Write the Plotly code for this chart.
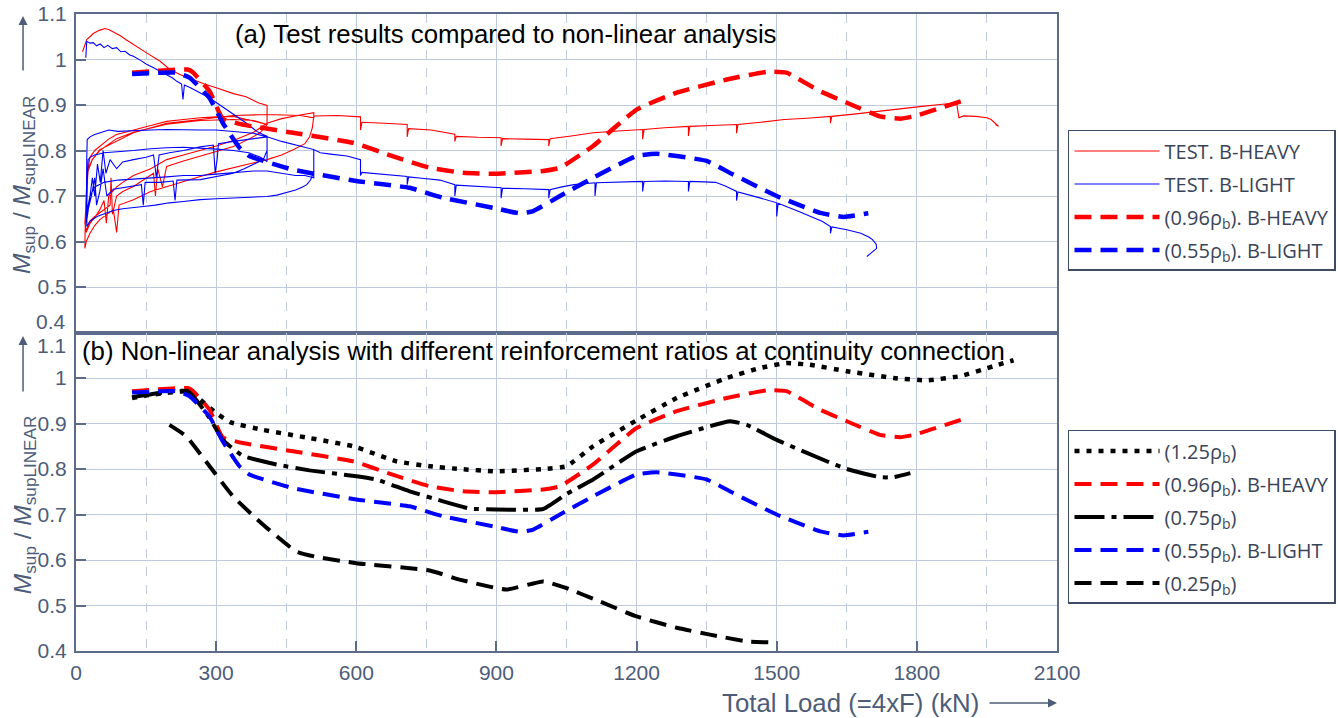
import plotly.graph_objects as go
from plotly.subplots import make_subplots

# ---------------- data ----------------
# Non-linear analysis curves: total load (kN) vs Msup/MsupLINEAR
load_125 = [120, 160, 240, 257, 300, 330, 400, 500, 593, 686, 757, 821, 900, 1000, 1050, 1107,
            1200, 1286, 1393, 1464, 1521, 1571, 1650, 1750, 1821, 1893, 1964, 2007]
ratio_125 = [0.956, 0.963, 0.971, 0.960, 0.923, 0.903, 0.886, 0.868, 0.850, 0.817, 0.806, 0.800,
             0.795, 0.800, 0.806, 0.850, 0.907, 0.956, 1.000, 1.022, 1.033, 1.029, 1.015, 1.000,
             0.995, 1.004, 1.026, 1.039]

load_096 = [120, 239, 250, 286, 314, 357, 464, 593, 671, 757, 829, 900, 1000, 1036, 1107, 1200,
            1286, 1393, 1479, 1521, 1593, 1650, 1721, 1764, 1793, 1900]
ratio_096 = [0.971, 0.978, 0.972, 0.930, 0.870, 0.857, 0.839, 0.817, 0.790, 0.762, 0.751, 0.749,
             0.755, 0.762, 0.810, 0.890, 0.927, 0.956, 0.973, 0.971, 0.930, 0.905, 0.875, 0.870,
             0.875, 0.910]

load_075 = [120, 239, 286, 314, 357, 429, 500, 600, 643, 714, 786, 843, 900, 1000, 1050, 1107,
            1200, 1286, 1400, 1436, 1500, 1607, 1650, 1721, 1750, 1786]
ratio_075 = [0.958, 0.971, 0.912, 0.864, 0.829, 0.810, 0.797, 0.784, 0.777, 0.751, 0.729, 0.713,
             0.711, 0.712, 0.745, 0.777, 0.839, 0.872, 0.905, 0.897, 0.864, 0.817, 0.800, 0.782,
             0.782, 0.791]

load_055 = [120, 214, 243, 286, 314, 350, 371, 464, 600, 714, 786, 893, 950, 979, 1036, 1107,
            1200, 1243, 1350, 1407, 1500, 1593, 1643, 1696]
ratio_055 = [0.968, 0.971, 0.960, 0.915, 0.861, 0.806, 0.788, 0.758, 0.733, 0.718, 0.696, 0.674,
             0.662, 0.667, 0.700, 0.740, 0.788, 0.793, 0.777, 0.747, 0.700, 0.663, 0.654, 0.662]

load_025 = [200, 236, 286, 336, 400, 471, 514, 600, 757, 821, 921, 1000, 1050, 1121, 1200, 1286,
            1357, 1436, 1486]
ratio_025 = [0.897, 0.872, 0.806, 0.740, 0.678, 0.619, 0.607, 0.593, 0.577, 0.557, 0.535, 0.553,
             0.538, 0.509, 0.476, 0.451, 0.436, 0.421, 0.419]

# Test results (cyclic loading path), B-HEAVY
test_heavy_load = [
    14, 18, 23, 30, 37, 50, 62, 70, 80, 95, 108, 130, 152, 180, 201, 225, 250, 275, 300, 337, 364, 390, 409, 409,
    390, 337, 300, 266, 230, 194, 160, 123, 100, 87, 70, 51, 40, 30, 24, 21, 20,
    24, 30, 40, 51, 73, 75, 78, 87, 100, 123, 150, 166, 170, 175, 185, 194, 230, 266, 300, 337, 370, 394, 409,
    380, 337, 266, 194, 123, 87, 51, 35, 26, 22, 19,
    22, 30, 45, 51, 60, 65, 70, 87, 100, 123, 160, 194, 230, 266, 300, 337, 380, 409,
    440, 480, 509, 509,
    480, 409, 337, 266, 194, 123, 87, 51, 35, 24, 20, 19,
    22, 30, 40, 51, 80, 87, 92, 123, 160, 194, 230, 266, 300, 337, 370, 409, 440, 466, 490, 500, 506, 509,
    560, 609, 609, 612, 660, 709, 709, 712, 760, 779, 811, 811, 814, 860, 910, 910, 913, 960, 1012, 1012,
    1015, 1060, 1107, 1160, 1213, 1213, 1216, 1260, 1311, 1311, 1314, 1360, 1414, 1414, 1417, 1466, 1516,
    1565, 1615, 1615, 1618, 1665, 1713, 1760, 1811, 1850, 1885, 1890, 1900, 1926, 1950, 1959, 1968, 1975, 1968]
test_heavy_ratio = [
    1.017, 1.030, 1.044, 1.050, 1.057, 1.064, 1.068, 1.066, 1.061, 1.052, 1.043, 1.028, 1.014, 0.996, 0.978,
    0.966, 0.956, 0.946, 0.938, 0.925, 0.918, 0.905, 0.899, 0.857,
    0.862, 0.875, 0.874, 0.872, 0.868, 0.864, 0.855, 0.845, 0.838, 0.835, 0.825, 0.810, 0.800, 0.785, 0.750,
    0.680, 0.620,
    0.630, 0.645, 0.655, 0.663, 0.680, 0.740, 0.660, 0.700, 0.710, 0.721, 0.740, 0.750, 0.700, 0.760, 0.720,
    0.765, 0.777, 0.787, 0.798, 0.809, 0.825, 0.839, 0.857,
    0.866, 0.868, 0.866, 0.858, 0.840, 0.826, 0.800, 0.780, 0.760, 0.700, 0.640,
    0.620, 0.640, 0.660, 0.670, 0.690, 0.640, 0.700, 0.720, 0.730, 0.745, 0.760, 0.780, 0.790, 0.800, 0.810,
    0.822, 0.840, 0.860,
    0.870, 0.878, 0.883, 0.872,
    0.877, 0.879, 0.877, 0.868, 0.860, 0.839, 0.820, 0.802, 0.780, 0.750, 0.650, 0.585,
    0.600, 0.618, 0.635, 0.648, 0.670, 0.620, 0.680, 0.692, 0.710, 0.721, 0.733, 0.743, 0.753, 0.762, 0.770,
    0.780, 0.790, 0.802, 0.815, 0.830, 0.850, 0.876,
    0.877, 0.874, 0.845, 0.862, 0.860, 0.857, 0.830, 0.848, 0.845, 0.842, 0.836, 0.820, 0.831, 0.829, 0.828,
    0.810, 0.826, 0.825, 0.824, 0.810,
    0.826, 0.832, 0.839, 0.843, 0.846, 0.825, 0.846, 0.850, 0.853, 0.832, 0.853, 0.855, 0.857, 0.838, 0.857,
    0.862, 0.868,
    0.871, 0.875, 0.860, 0.875, 0.880, 0.886, 0.891, 0.897, 0.901, 0.905, 0.872, 0.876, 0.875, 0.872, 0.868,
    0.860, 0.853, 0.857]

# Test results (cyclic loading path), B-LIGHT
test_light_load = [
    21, 23, 30, 37, 44, 52, 60, 68, 78, 87, 96, 105, 115, 123, 140, 150, 162, 173, 185, 195, 206, 216, 226,
    229, 232, 245, 266, 283, 301, 320, 337, 352, 365, 387, 400, 409, 409,
    395, 370, 337, 300, 266, 230, 194, 160, 123, 90, 60, 40, 30, 26, 24, 23,
    26, 33, 40, 44, 51, 58, 66, 80, 100, 123, 140, 144, 148, 180, 208, 212, 216, 266, 300, 337, 360, 380,
    401, 409, 409,
    380, 337, 300, 266, 230, 194, 160, 120, 90, 70, 51, 40, 30, 24, 23, 22, 22,
    25, 30, 35, 40, 46, 52, 58, 64, 73, 87, 100, 123, 150, 166, 172, 178, 200, 230, 266, 294, 298, 302, 305,
    337, 370, 409,
    440, 470, 495, 509, 509,
    490, 470, 440, 409, 380, 337, 300, 266, 230, 194, 160, 123, 90, 60, 40, 30, 24, 23,
    30, 45, 60, 80, 100, 120, 144, 170, 200, 230, 266, 300, 337, 370, 409, 430, 451, 470, 485, 494, 502, 506,
    509, 509,
    523, 545, 580, 609, 609, 612, 650, 680, 709, 709, 712, 740, 779, 811, 811, 814, 860, 910, 910, 913, 960,
    1012, 1012, 1015, 1040, 1066, 1111, 1111, 1114, 1160, 1213, 1213, 1216, 1260, 1311, 1311, 1314, 1345,
    1369, 1390, 1414, 1414, 1417, 1460, 1500, 1500, 1503, 1550, 1598, 1615, 1615, 1618, 1650, 1680, 1697,
    1705, 1713, 1714, 1705, 1693]
test_light_ratio = [
    1.004, 1.040, 1.036, 1.037, 1.030, 1.034, 1.026, 1.031, 1.024, 1.026, 1.017, 1.018, 1.010, 1.007, 0.997,
    0.990, 0.984, 0.978, 0.972, 0.965, 0.960, 0.952, 0.946, 0.912, 0.944, 0.938, 0.927, 0.917, 0.905, 0.892,
    0.879, 0.869, 0.860, 0.842, 0.836, 0.831, 0.776,
    0.785, 0.795, 0.800, 0.803, 0.805, 0.807, 0.806, 0.804, 0.800, 0.797, 0.795, 0.790, 0.785, 0.780, 0.730,
    0.660,
    0.670, 0.700, 0.740, 0.680, 0.710, 0.760, 0.700, 0.715, 0.718, 0.721, 0.725, 0.680, 0.730, 0.730, 0.733,
    0.690, 0.735, 0.736, 0.742, 0.750, 0.760, 0.770, 0.780, 0.800, 0.830,
    0.838, 0.842, 0.845, 0.845, 0.846, 0.846, 0.845, 0.843, 0.842, 0.845, 0.839, 0.835, 0.830, 0.824, 0.780,
    0.700, 0.640,
    0.660, 0.700, 0.740, 0.700, 0.770, 0.730, 0.800, 0.750, 0.780, 0.760, 0.775, 0.780, 0.785, 0.790, 0.740,
    0.790, 0.795, 0.800, 0.808, 0.812, 0.750, 0.780, 0.815, 0.820, 0.825, 0.830,
    0.820, 0.812, 0.806, 0.802, 0.740,
    0.745, 0.745, 0.750, 0.755, 0.755, 0.752, 0.748, 0.745, 0.745, 0.742, 0.740, 0.738, 0.735, 0.730, 0.720,
    0.700, 0.670, 0.633,
    0.645, 0.655, 0.660, 0.668, 0.672, 0.675, 0.677, 0.680, 0.685, 0.688, 0.692, 0.694, 0.696, 0.697, 0.699,
    0.702, 0.707, 0.713, 0.720, 0.725, 0.735, 0.745, 0.752, 0.802,
    0.795, 0.792, 0.788, 0.780, 0.745, 0.752, 0.748, 0.746, 0.743, 0.725, 0.742, 0.739, 0.735, 0.725, 0.700,
    0.724, 0.721, 0.718, 0.695, 0.717, 0.716,
    0.714, 0.695, 0.714, 0.720, 0.725, 0.729, 0.700, 0.729, 0.731, 0.732, 0.710, 0.732, 0.733, 0.732, 0.710,
    0.732, 0.731,
    0.730, 0.722, 0.710, 0.690, 0.709, 0.697, 0.685, 0.655, 0.684, 0.665, 0.644, 0.633, 0.618, 0.632, 0.626,
    0.618, 0.610,
    0.604, 0.594, 0.585, 0.578, 0.567]

x_tick_vals = [0, 300, 600, 900, 1200, 1500, 1800, 2100]
x_tick_text = ["0", "300", "600", "900", "1200", "1500", "1800", "2100"]
y_top_tick_vals = [0.5, 0.6, 0.7, 0.8, 0.9, 1.0, 1.1]
y_top_tick_text = ["0.5", "0.6", "0.7", "0.8", "0.9", "1", "1.1"]
y_bot_tick_vals = [0.4, 0.5, 0.6, 0.7, 0.8, 0.9, 1.0]
y_bot_tick_text = ["0.4", "0.5", "0.6", "0.7", "0.8", "0.9", "1"]

# ---------------- styling ----------------
RED = "#ff0000"
BLUE = "#0000ff"
BLACK = "#000000"
SLATE = "#4d5c78"
FRAME = "#5b6b89"
GRID = "#bfcadd"
LEG_TXT = "#3a4458"
FONT = "Liberation Sans, Arial, sans-serif"
DASH = "17px,9px"
TICK_SIZE = 21
TITLE_SIZE = 25.8

fig = make_subplots(rows=2, cols=1, shared_xaxes=True, vertical_spacing=0)

# top panel
fig.add_trace(go.Scatter(x=test_heavy_load, y=test_heavy_ratio, mode="lines",
                         line=dict(color=RED, width=1.1), name="TEST. B-HEAVY",
                         legend="legend", legendgroup="a1"), row=1, col=1)
fig.add_trace(go.Scatter(x=test_light_load, y=test_light_ratio, mode="lines",
                         line=dict(color=BLUE, width=1.1), name="TEST. B-LIGHT",
                         legend="legend", legendgroup="a2"), row=1, col=1)
fig.add_trace(go.Scatter(x=load_096, y=ratio_096, mode="lines",
                         line=dict(color=RED, width=4.5, dash=DASH, shape="spline", smoothing=0.4),
                         name="(0.96ρ<sub>b</sub>). B-HEAVY", legend="legend", legendgroup="a3"),
              row=1, col=1)
fig.add_trace(go.Scatter(x=load_055, y=ratio_055, mode="lines",
                         line=dict(color=BLUE, width=4.5, dash=DASH, shape="spline", smoothing=0.4),
                         name="(0.55ρ<sub>b</sub>). B-LIGHT", legend="legend", legendgroup="a4"),
              row=1, col=1)

# bottom panel
fig.add_trace(go.Scatter(x=load_125, y=ratio_125, mode="lines",
                         line=dict(color=BLACK, width=4.5, dash="5px,7px", shape="spline", smoothing=0.4),
                         name="(1.25ρ<sub>b</sub>)", legend="legend2", legendgroup="b1"), row=2, col=1)
fig.add_trace(go.Scatter(x=load_096, y=ratio_096, mode="lines",
                         line=dict(color=RED, width=4, dash=DASH, shape="spline", smoothing=0.4),
                         name="(0.96ρ<sub>b</sub>). B-HEAVY", legend="legend2", legendgroup="b2"),
              row=2, col=1)
fig.add_trace(go.Scatter(x=load_075, y=ratio_075, mode="lines",
                         line=dict(color=BLACK, width=4, dash="30px,7px,5px,7px", shape="spline",
                                   smoothing=0.4),
                         name="(0.75ρ<sub>b</sub>)", legend="legend2", legendgroup="b3"), row=2, col=1)
fig.add_trace(go.Scatter(x=load_055, y=ratio_055, mode="lines",
                         line=dict(color=BLUE, width=4, dash=DASH, shape="spline", smoothing=0.4),
                         name="(0.55ρ<sub>b</sub>). B-LIGHT", legend="legend2", legendgroup="b4"),
              row=2, col=1)
fig.add_trace(go.Scatter(x=load_025, y=ratio_025, mode="lines",
                         line=dict(color=BLACK, width=4, dash=DASH, shape="spline", smoothing=0.4),
                         name="(0.25ρ<sub>b</sub>)", legend="legend2", legendgroup="b5"), row=2, col=1)

axis_common = dict(showline=True, linecolor=FRAME, linewidth=2, mirror=True,
                   showgrid=True, gridcolor=GRID, gridwidth=1, zeroline=False,
                   ticks="inside", ticklen=10, tickwidth=1.5, tickcolor=FRAME,
                   tickfont=dict(family=FONT, size=TICK_SIZE, color=SLATE))

minor_x = dict(dtick=150, tick0=0, showgrid=True, gridcolor=GRID, griddash="dash", gridwidth=1, ticks="")

fig.update_xaxes(range=[0, 2100], tickmode="array", tickvals=x_tick_vals, ticktext=x_tick_text,
                 minor=minor_x, ticklabelstandoff=2, **axis_common)
fig.update_xaxes(showticklabels=False, ticks="", row=1, col=1)
fig.update_yaxes(range=[0.4, 1.1], tickmode="array", ticklabelstandoff=3, **axis_common)
fig.update_yaxes(tickvals=y_top_tick_vals, ticktext=y_top_tick_text, row=1, col=1)
fig.update_yaxes(tickvals=y_bot_tick_vals, ticktext=y_bot_tick_text, row=2, col=1)

legend_common = dict(xanchor="right", yanchor="top", bgcolor="white", bordercolor="#3e4c66",
                     borderwidth=1.5, font=dict(family="Open Sans, sans-serif", size=20, color=LEG_TXT),
                     itemwidth=85, tracegroupgap=4, traceorder="grouped")

fig.update_layout(
    width=1338, height=718, autosize=False,
    margin=dict(l=76, r=281, t=14, b=67, autoexpand=False),
    paper_bgcolor="white", plot_bgcolor="white",
    legend=dict(x=1.2844, y=0.818, **legend_common),
    legend2=dict(x=1.2844, y=0.347, **legend_common),
    showlegend=True,
)

ytitle = "<i>M</i><sub>sup</sub> / <i>M</i><sub>supLINEAR</sub>"
annotations = [
    dict(text="(a) Test results compared to non-linear analysis", xref="paper", yref="paper",
         x=0.16, y=0.969, xanchor="left", yanchor="middle", showarrow=False,
         font=dict(family=FONT, size=TITLE_SIZE, color="black")),
    dict(text="(b) Non-linear analysis with different reinforcement ratios at continuity connection",
         xref="paper", yref="paper", x=0.0045, y=0.4706, xanchor="left", yanchor="middle", showarrow=False,
         font=dict(family=FONT, size=TITLE_SIZE, color="black")),
    # y axis titles
    dict(text=ytitle, xref="paper", yref="paper", x=-0.053, y=0.7316, textangle=-90,
         xanchor="center", yanchor="middle", showarrow=False,
         font=dict(family=FONT, size=24.5, color=SLATE)),
    dict(text=ytitle, xref="paper", yref="paper", x=-0.053, y=0.229, textangle=-90,
         xanchor="center", yanchor="middle", showarrow=False,
         font=dict(family=FONT, size=24.5, color=SLATE)),
    # displaced edge tick labels
    dict(text="0.4", xref="paper", yref="y", x=0, y=0.4, xanchor="right", yanchor="middle",
         xshift=-8, yshift=11, showarrow=False, font=dict(family=FONT, size=TICK_SIZE, color=SLATE)),
    dict(text="1.1", xref="paper", yref="y2", x=0, y=1.1, xanchor="right", yanchor="middle",
         xshift=-8, yshift=-13, showarrow=False, font=dict(family=FONT, size=TICK_SIZE, color=SLATE)),
    # x axis title
    dict(text="Total Load (=4xF) (kN)", xref="paper", yref="paper", x=0.789, y=-0.0816,
         xanchor="center", yanchor="middle", showarrow=False,
         font=dict(family=FONT, size=TITLE_SIZE, color=SLATE)),
    # arrows
    dict(text="", xref="paper", yref="paper", x=1.0, y=-0.0816, ax=-69, ay=0, showarrow=True,
         arrowhead=2, arrowsize=1.2, arrowwidth=1.5, arrowcolor=SLATE),
    dict(text="", xref="paper", yref="paper", x=-0.054, y=0.9969, ax=0, ay=56, showarrow=True,
         arrowhead=2, arrowsize=1.2, arrowwidth=1.5, arrowcolor=SLATE),
    dict(text="", xref="paper", yref="paper", x=-0.054, y=0.4945, ax=0, ay=57, showarrow=True,
         arrowhead=2, arrowsize=1.2, arrowwidth=1.5, arrowcolor=SLATE),
]
fig.update_layout(annotations=annotations)

fig.write_html("out.html")
